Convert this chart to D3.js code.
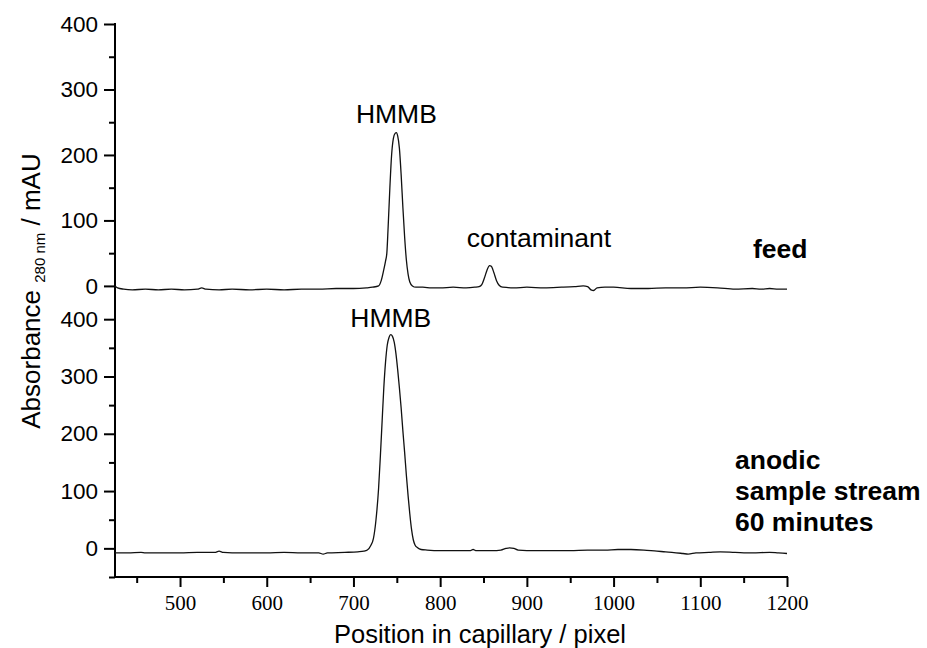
<!DOCTYPE html>
<html>
<head>
<meta charset="utf-8">
<script src="https://cdn.jsdelivr.net/npm/d3@7"></script>
<style>
  html, body { margin: 0; padding: 0; background: #fff; }
  svg { display: block; }
</style>
</head>
<body>
<svg id="chart" width="927" height="648"></svg>
<script>
// Electropherogram traces: position in capillary (pixel) vs absorbance at 280 nm (mAU)
const feedPos = [425, 428, 435, 445, 460, 475, 490, 505, 520, 525, 530, 545, 560, 580, 600, 620, 640, 660, 680, 700, 715, 722,
  729, 732, 735, 737, 738.5, 740, 742, 744, 746, 748, 749.5, 751, 753, 755, 757, 759, 761, 763, 765, 768, 772,
  780, 790, 800, 815, 830, 840, 845, 848, 851, 854, 857, 859, 862, 865, 868, 872, 885, 900, 920, 940, 955, 965, 970,
  974, 977, 981, 990, 1000, 1020, 1040, 1060, 1080, 1100, 1120, 1140, 1160, 1170, 1180, 1190, 1200];
const feedAbs = [0, -3, -5, -6, -5, -6, -5, -6, -5, -3, -5, -6, -5, -6, -5, -6, -5, -5, -4, -4, -3, -2,
  0, 8, 25, 38, 50, 90, 150, 200, 225, 233, 234, 229, 210, 170, 120, 75, 40, 18, 6, 0, -2,
  -2, -3, -3, -2, -3, -2, -1, 2, 12, 24, 31, 30, 20, 8, 1, -2, -3, -2, -3, -2, -1, 0, -1,
  -6, -7, -3, -2, -2, -4, -4, -3, -3, -2, -3, -5, -4, -5, -4, -5, -5];

const anodicPos = [425, 440, 455, 460, 480, 500, 520, 540, 545, 550, 570, 600, 620, 640, 660, 665, 670, 690, 705, 712, 716,
  720, 723, 726, 729, 731, 733, 735, 737, 739, 741, 743, 745, 747, 749, 751, 753, 755, 757, 759, 761, 763, 765, 767, 769, 771,
  774, 778, 785, 800, 820, 835, 838, 841, 860, 870, 876, 880, 885, 890, 910, 930, 950, 970, 990, 1005, 1020, 1035, 1050,
  1060, 1080, 1086, 1095, 1110, 1123, 1140, 1160, 1180, 1190, 1200];
const anodicAbs = [-8, -8, -7, -8, -8, -8, -7, -7, -5, -7, -8, -8, -7, -8, -8, -10, -8, -7, -6, -5, -3,
  5, 17, 50, 105, 160, 220, 280, 325, 355, 368, 373, 370, 360, 340, 312, 280, 245, 205, 168, 128, 92, 60, 33, 15, 6,
  1, -2, -3, -4, -4, -4, -2, -4, -4, -3, 0, 1, 0, -3, -4, -4, -4, -3, -3, -2, -2, -3, -5,
  -6, -9, -10, -8, -7, -6, -7, -8, -7, -8, -9];

const xTicksMajor = [500, 600, 700, 800, 900, 1000, 1100, 1200];
const xTicksMinor = [450, 550, 650, 750, 850, 950, 1050, 1150];
const yTicksMajor = [0, 100, 200, 300, 400];
const yTicksMinorTop = [50, 150, 250, 350];
const yTicksMinorBottom = [-50, 50, 150, 250, 350];

const svg = d3.select("#chart");
const sans = "'Liberation Sans', Arial, sans-serif";
const serif = "'Liberation Serif', 'Times New Roman', serif";

const left = 115, right = 787;
const x = d3.scaleLinear().domain([425, 1200]).range([left, right]);
const yTop = d3.scaleLinear().domain([-20, 400]).range([299, 24]);
const yBot = d3.scaleLinear().domain([-50, 430]).range([577, 302]);

function styleAxis(g, fontFamily, fontSize) {
  g.select(".domain").remove();
  g.selectAll(".tick line").attr("stroke", "#000").attr("stroke-width", 2);
  g.selectAll(".tick text").attr("fill", "#000").attr("font-family", fontFamily).attr("font-size", fontSize);
}

// Left axes for each panel: major + minor ticks
function drawY(scale, minor) {
  svg.append("g").attr("transform", `translate(${left},0)`)
    .call(d3.axisLeft(scale).tickValues(yTicksMajor).tickSize(11).tickPadding(6))
    .call(g => styleAxis(g, sans, 22.5));
  svg.append("g").attr("transform", `translate(${left},0)`)
    .call(d3.axisLeft(scale).tickValues(minor).tickSize(6).tickFormat(""))
    .call(g => styleAxis(g, sans, 22.5));
}
drawY(yTop, yTicksMinorTop);
drawY(yBot, yTicksMinorBottom);

// Bottom axis
svg.append("g").attr("transform", `translate(0,577)`)
  .call(d3.axisBottom(x).tickValues(xTicksMajor).tickSize(10).tickPadding(8).tickFormat(d3.format("d")))
  .call(g => styleAxis(g, serif, 21));
svg.append("g").attr("transform", `translate(0,577)`)
  .call(d3.axisBottom(x).tickValues(xTicksMinor).tickSize(6).tickFormat(""))
  .call(g => styleAxis(g, serif, 21));

// Axis lines
svg.append("line").attr("x1", left).attr("x2", left).attr("y1", yTop(400) - 1).attr("y2", 578)
  .attr("stroke", "#000").attr("stroke-width", 2);
svg.append("line").attr("x1", left - 1).attr("x2", right + 1).attr("y1", 577).attr("y2", 577)
  .attr("stroke", "#000").attr("stroke-width", 2);

// Traces
const feed = feedPos.map((p, i) => [p, feedAbs[i]]);
const anodic = anodicPos.map((p, i) => [p, anodicAbs[i]]);
const lineTop = d3.line().x(d => x(d[0])).y(d => yTop(d[1])).curve(d3.curveMonotoneX);
const lineBot = d3.line().x(d => x(d[0])).y(d => yBot(d[1])).curve(d3.curveMonotoneX);
svg.append("path").datum(feed).attr("d", lineTop)
  .attr("fill", "none").attr("stroke", "#111").attr("stroke-width", 1.3);
svg.append("path").datum(anodic).attr("d", lineBot)
  .attr("fill", "none").attr("stroke", "#111").attr("stroke-width", 1.3);

// Peak annotations
function label(txt, px, py, opts = {}) {
  return svg.append("text").attr("x", px).attr("y", py)
    .attr("font-family", sans).attr("font-size", opts.size || 26.5)
    .attr("font-weight", opts.bold ? "bold" : "normal")
    .attr("text-anchor", opts.anchor || "start").attr("fill", "#000").text(txt);
}
label("HMMB", x(749.5), 123, { anchor: "middle" });
label("contaminant", 539, 247, { anchor: "middle" });
label("feed", 753, 258, { bold: true });
label("HMMB", x(743), 327, { anchor: "middle" });
label("anodic", 735, 469, { bold: true });
label("sample stream", 735, 500, { bold: true });
label("60 minutes", 735, 531, { bold: true });

// Axis titles
svg.append("text").attr("x", 480).attr("y", 643).attr("text-anchor", "middle")
  .attr("font-family", sans).attr("font-size", 25.5).attr("fill", "#000")
  .text("Position in capillary / pixel");

const yt = svg.append("text").attr("transform", "translate(40,291) rotate(-90)")
  .attr("text-anchor", "middle").attr("font-family", sans).attr("font-size", 26).attr("fill", "#000");
yt.append("tspan").text("Absorbance ");
yt.append("tspan").attr("font-size", 15).attr("dy", 5).text("280 nm");
yt.append("tspan").attr("dy", -5).text(" / mAU");
</script>
</body>
</html>
